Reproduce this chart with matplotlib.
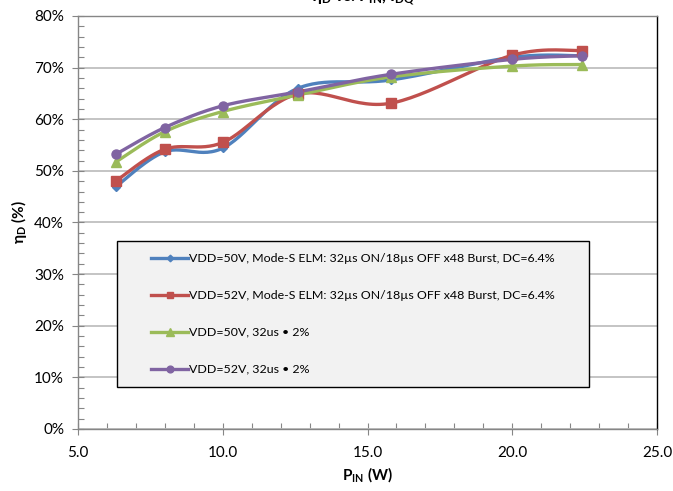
import numpy as np
import matplotlib
matplotlib.use("Agg")
import matplotlib.pyplot as plt
from matplotlib.patches import Rectangle, Shadow
from matplotlib.ticker import MultipleLocator, FuncFormatter

plt.rcParams['font.family'] = ['Lato', 'DejaVu Sans']
plt.rcParams['mathtext.fontset'] = 'custom'
plt.rcParams['mathtext.rm'] = 'Lato'
plt.rcParams['mathtext.bf'] = 'Lato:bold'
plt.rcParams['mathtext.it'] = 'Lato:italic'

# input power (W)
pin = [6.3, 8.0, 10.0, 12.6, 15.8, 20.0, 22.4]

# drain efficiency (%)
eff_50v_modes = [46.9, 53.7, 54.4, 66.0, 67.6, 72.0, 72.3]
eff_52v_modes = [48.0, 54.2, 55.5, 64.9, 63.1, 72.4, 73.3]
eff_50v_32us = [51.7, 57.6, 61.5, 64.7, 68.2, 70.3, 70.6]
eff_52v_32us = [53.2, 58.4, 62.6, 65.3, 68.7, 71.6, 72.3]

labels = [
    "VDD=50V, Mode-S ELM: 32µs ON/18µs OFF x48 Burst, DC=6.4%",
    "VDD=52V, Mode-S ELM: 32µs ON/18µs OFF x48 Burst, DC=6.4%",
    "VDD=50V, 32us \u2022 2%",
    "VDD=52V, 32us \u2022 2%",
]

XMIN, XMAX, YMIN, YMAX = 5.0, 25.0, 0.0, 80.0


def smooth(x, y, sx=580.0, sy=413.0, n=30):
    # excel-like smoothed line: bezier with catmull-rom control points (in pixel space)
    px = (np.asarray(x) - XMIN) / (XMAX - XMIN) * sx
    py = (np.asarray(y) - YMIN) / (YMAX - YMIN) * sy
    pts = np.column_stack([px, py])
    out = []
    m = len(pts)
    for i in range(m - 1):
        p0 = pts[max(i - 1, 0)]
        p1 = pts[i]
        p2 = pts[i + 1]
        p3 = pts[min(i + 2, m - 1)]
        c1 = p1 + (p2 - p0) / 6.0
        c2 = p2 - (p3 - p1) / 6.0
        t = np.linspace(0, 1, n)[:, None]
        seg = ((1 - t) ** 3) * p1 + 3 * ((1 - t) ** 2) * t * c1 + 3 * (1 - t) * t ** 2 * c2 + t ** 3 * p2
        out.append(seg if i == 0 else seg[1:])
    c = np.vstack(out)
    return c[:, 0] / sx * (XMAX - XMIN) + XMIN, c[:, 1] / sy * (YMAX - YMIN) + YMIN


fig = plt.figure(figsize=(6.73, 4.91), dpi=100)
ax = fig.add_axes([78 / 673, 1 - 429 / 491, 579 / 673, 413 / 491])

series = [
    (eff_50v_modes, '#4F81BD', 'D', 4.5),
    (eff_52v_modes, '#C0504D', 's', 6.5),
    (eff_50v_32us, '#9BBB59', '^', 7),
    (eff_52v_32us, '#8064A2', 'o', 6.5),
]

handles = []
for (vals, col, mk, ms), lab in zip(series, labels):
    sx_, sy_ = smooth(pin, vals)
    ax.plot(sx_, sy_, color=col, lw=2.4, solid_capstyle='round', zorder=3)
    ax.plot(pin, vals, ls='none', marker=mk, ms=ms, color=col, mec=col, zorder=4)
    h, = ax.plot([], [], color=col, lw=2.4, marker=mk, ms=ms * 0.75, mec=col, label=lab)
    handles.append(h)

ax.set_xlim(XMIN, XMAX)
ax.set_ylim(YMIN, YMAX)
ax.xaxis.set_major_locator(MultipleLocator(5))
ax.xaxis.set_minor_locator(MultipleLocator(1))
ax.yaxis.set_major_locator(MultipleLocator(10))
ax.yaxis.set_minor_locator(MultipleLocator(2))
ax.xaxis.set_major_formatter(FuncFormatter(lambda v, p: f"{v:.1f}"))
ax.yaxis.set_major_formatter(FuncFormatter(lambda v, p: f"{v:.0f}%"))
ax.tick_params(which='major', direction='inout', length=8, width=0.8, color='#868686',
               labelsize=11, labelcolor='black')
ax.tick_params(which='minor', direction='in', length=4, width=0.8, color='#868686')
ax.tick_params(axis='x', pad=8)
ax.tick_params(axis='y', pad=6)

ax.grid(axis='y', which='major', color='#BFBFBF', lw=1.3, zorder=0)
for s in ['left', 'bottom', 'top']:
    ax.spines[s].set_color('#868686')
    ax.spines[s].set_linewidth(1.0)
ax.spines['right'].set_color('black')
ax.spines['right'].set_linewidth(1.0)

ax.set_xlabel(r'$\mathbf{P_{IN}}$ (W)', fontsize=11, fontweight='bold', labelpad=4)
ax.set_ylabel(r'$\mathbf{\eta_D}$ (%)', fontsize=11, fontweight='bold', labelpad=4)

# legend box with shadow
bx0, by0 = (117 - 78) / 579, (429 - 387) / 413
bw, bh = (589 - 117) / 579, (387 - 241) / 413
box = Rectangle((bx0, by0), bw, bh, transform=ax.transAxes, facecolor='#F2F2F2',
                edgecolor='black', lw=1.0, zorder=5)
shadow = Shadow(box, 3, -3, facecolor='#9A9A9A', alpha=0.8, zorder=4.9)
ax.add_patch(shadow)
ax.add_patch(box)
leg = ax.legend(handles=handles, loc='upper left',
                bbox_to_anchor=((151 - 78) / 579, (429 - 253) / 413),
                frameon=False, fontsize=8.9, labelspacing=2.1, handlelength=3.0,
                handletextpad=0.1, borderpad=0, borderaxespad=0)
leg.set_zorder(6)

# title (cut off at the top of the picture)
fig.text(415 / 673, 1 - 1 / 491, r'$\mathbf{\eta_D}$ vs. $\mathbf{P_{IN}}$, $\mathbf{I_{DQ}}$',
         ha='right', va='baseline', fontsize=12, fontweight='bold')

fig.savefig('out.png', dpi=100)
